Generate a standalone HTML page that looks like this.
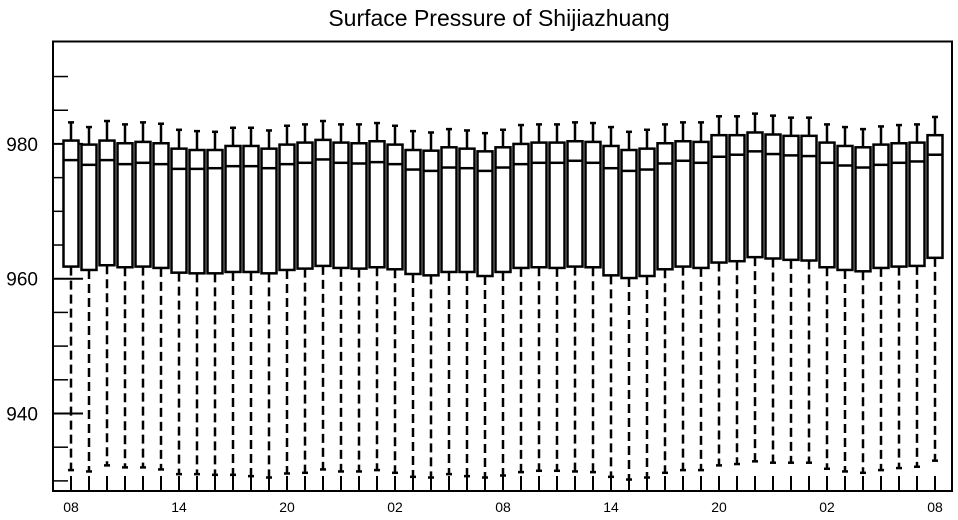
<!DOCTYPE html>
<html><head><meta charset="utf-8"><style>
body{margin:0;background:#fff;}
svg{display:block;font-family:"Liberation Sans",Arial,sans-serif;}
</style></head><body>
<svg id="chart" width="958" height="520" viewBox="0 0 958 520">
<text x="499" y="26" text-anchor="middle" font-size="23">Surface Pressure of Shijiazhuang</text>
<g id="plot"></g>
</svg>
<script>
const maxs=[983.2,982.5,983.4,982.9,983.2,983.0,982.1,981.9,981.8,982.4,982.4,982.0,982.7,982.9,983.4,982.9,982.9,983.1,982.7,981.9,981.7,982.2,982.0,981.6,982.1,982.8,982.9,982.9,983.2,983.1,982.5,981.8,982.1,982.9,983.2,983.2,984.1,984.1,984.5,984.2,983.9,983.9,982.9,982.5,982.2,982.6,982.8,982.9,984.0];
const q3s=[980.5,979.9,980.5,980.1,980.3,980.1,979.3,979.1,979.1,979.7,979.7,979.3,979.9,980.2,980.6,980.2,980.1,980.4,979.9,979.1,979.0,979.5,979.3,978.9,979.5,980.0,980.2,980.2,980.4,980.3,979.7,979.1,979.3,980.1,980.4,980.3,981.3,981.3,981.7,981.4,981.2,981.2,980.2,979.7,979.5,979.9,980.1,980.2,981.3];
const medians=[977.6,976.9,977.6,977.0,977.2,977.0,976.3,976.3,976.4,976.7,976.7,976.4,977.0,977.2,977.7,977.2,977.1,977.3,977.0,976.2,976.0,976.5,976.4,976.0,976.5,977.0,977.2,977.2,977.5,977.2,976.4,976.0,976.2,977.1,977.5,977.2,978.1,978.4,978.9,978.5,978.3,978.2,977.2,976.8,976.5,976.9,977.2,977.4,978.4];
const q1s=[961.8,961.3,962.0,961.7,961.8,961.6,960.9,960.8,960.8,961.0,961.0,960.8,961.3,961.5,961.9,961.6,961.5,961.7,961.4,960.7,960.5,961.0,961.0,960.4,961.0,961.6,961.7,961.6,961.8,961.7,960.5,960.1,960.4,961.4,961.8,961.6,962.4,962.6,963.2,963.0,962.8,962.7,961.7,961.3,961.1,961.6,961.8,961.9,963.1];
const mins=[931.6,931.4,932.3,932.0,932.0,931.7,931.0,931.0,930.9,930.9,930.7,930.5,931.1,931.2,931.7,931.4,931.4,931.6,931.2,930.6,930.5,931.0,930.7,930.5,930.8,931.3,931.5,931.5,931.4,931.3,930.6,930.2,930.5,931.2,931.6,931.6,932.3,932.5,932.9,932.7,932.7,932.7,931.8,931.4,931.2,931.6,931.9,932.1,933.0];
const xLabels=["08","14","20","02","08","14","20","02","08"];
const yMajor=[940,960,980];
const yMinor=[930,935,945,950,955,965,970,975,985,990];

const L=53,R=952,T=41.5,B=491;
const x0=71,dx=18;
const yMin=928.5,yMax=995.2;
const X=i=>x0+i*dx;
const Y=v=>B-(v-yMin)/(yMax-yMin)*(B-T);
const NS="http://www.w3.org/2000/svg";
const g=document.getElementById('plot');
function mk(tag,attrs,parent){const e=document.createElementNS(NS,tag);for(const k in attrs)e.setAttribute(k,attrs[k]);(parent||g).appendChild(e);return e;}

const frame=mk('rect',{x:L,y:T,width:R-L,height:B-T,fill:'none',stroke:'#000','stroke-width':2});



yMajor.forEach(v=>{
  const t=mk('line',{x1:L,x2:L+30,y1:Y(v),y2:Y(v),stroke:'#000','stroke-width':2});
  
  
  const l=mk('text',{x:38,y:Y(v)+7,'text-anchor':'end','font-size':19});
  l.textContent=v;
  
  
});
yMinor.forEach(v=>{
  const t=mk('line',{x1:L,x2:L+15,y1:Y(v),y2:Y(v),stroke:'#000','stroke-width':1.5});
  
  
});

for(let i=0;i<q3s.length;i++){
  const x=X(i);
  const t=mk('line',{x1:x,x2:x,y1:B,y2:B-15,stroke:'#000','stroke-width':2});
  
  
  const grp=mk('g',{});
  
  
  const lw=mk('line',{x1:x,x2:x,y1:Y(q1s[i]),y2:Y(mins[i]),stroke:'#000','stroke-width':2.5,'stroke-dasharray':'9,5'},grp);
  
  
  const lc=mk('line',{x1:x-3,x2:x+3,y1:Y(mins[i]),y2:Y(mins[i]),stroke:'#000','stroke-width':2.5},grp);
  
  
  const uw=mk('line',{x1:x,x2:x,y1:Y(q3s[i]),y2:Y(maxs[i]),stroke:'#000','stroke-width':2.5},grp);
  
  
  const uc=mk('line',{x1:x-3,x2:x+3,y1:Y(maxs[i]),y2:Y(maxs[i]),stroke:'#000','stroke-width':2.5},grp);
  
  
  const r=mk('rect',{x:x-7.5,y:Y(q3s[i]),width:15,height:Y(q1s[i])-Y(q3s[i]),fill:'#fff',stroke:'#000','stroke-width':2.5},grp);
  
  
  const m=mk('line',{x1:x-7.5,x2:x+7.5,y1:Y(medians[i]),y2:Y(medians[i]),stroke:'#000','stroke-width':2.5},grp);
  
  
}
xLabels.forEach((s,k)=>{
  const l=mk('text',{x:X(k*6),y:512,'text-anchor':'middle','font-size':14});
  l.textContent=s;
  
  
});
</script>
</body></html>
